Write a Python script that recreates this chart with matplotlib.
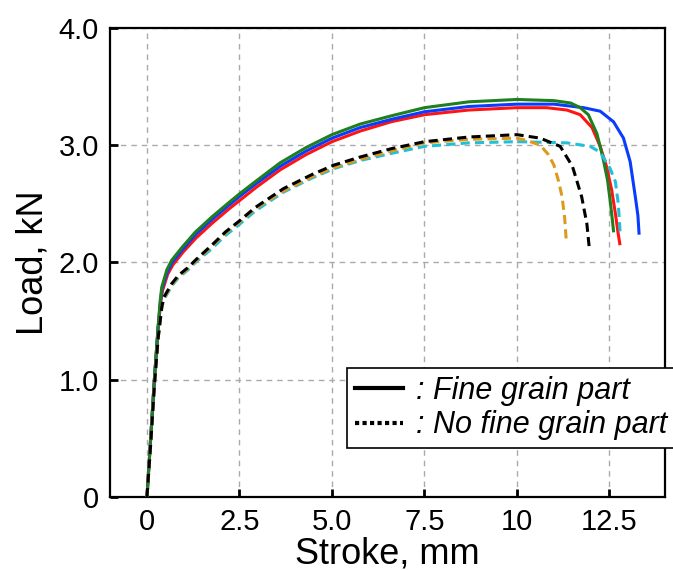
import matplotlib
matplotlib.use("Agg")
import matplotlib.pyplot as plt
from matplotlib.lines import Line2D

plt.rcParams['font.family'] = ['Liberation Sans', 'DejaVu Sans']

# Load–stroke curves, specimens with a fine grain part (solid)
blue_x = [0, 0.1, 0.2, 0.3, 0.365, 0.41, 0.55, 0.68, 0.96, 1.32, 1.77, 2.22, 2.53, 2.94, 3.6, 4.3,
          5.0, 5.76, 6.6, 7.5, 8.7, 10.0, 11.0, 11.8, 12.25, 12.61, 12.88, 13.06, 13.2, 13.27, 13.30]
blue_y = [0, 0.5, 1.0, 1.44, 1.67, 1.78, 1.92, 2.00, 2.11, 2.24, 2.37, 2.49, 2.57, 2.67, 2.82, 2.95,
          3.06, 3.15, 3.22, 3.285, 3.33, 3.35, 3.35, 3.32, 3.29, 3.20, 3.06, 2.86, 2.56, 2.40, 2.25]

red_x = [0, 0.1, 0.2, 0.3, 0.37, 0.42, 0.56, 0.7, 0.98, 1.33, 1.78, 2.23, 2.55, 2.95, 3.6, 4.3,
         5.0, 5.76, 6.6, 7.5, 8.7, 10.0, 10.8, 11.35, 11.71, 12.03, 12.25, 12.42, 12.56, 12.66, 12.73, 12.78]
red_y = [0, 0.5, 1.0, 1.43, 1.66, 1.76, 1.90, 1.98, 2.09, 2.21, 2.34, 2.46, 2.54, 2.64, 2.79, 2.92,
         3.03, 3.12, 3.20, 3.26, 3.30, 3.32, 3.32, 3.30, 3.26, 3.15, 2.99, 2.82, 2.62, 2.42, 2.26, 2.16]

green_x = [0, 0.1, 0.2, 0.3, 0.36, 0.40, 0.54, 0.67, 0.95, 1.31, 1.76, 2.21, 2.52, 2.93, 3.6, 4.3,
           5.0, 5.76, 6.6, 7.5, 8.7, 10.0, 11.0, 11.45, 11.71, 11.93, 12.16, 12.32, 12.45, 12.53, 12.58, 12.61]
green_y = [0, 0.5, 1.0, 1.45, 1.68, 1.79, 1.94, 2.02, 2.13, 2.26, 2.39, 2.51, 2.59, 2.69, 2.85, 2.98,
           3.09, 3.18, 3.25, 3.32, 3.37, 3.39, 3.38, 3.36, 3.32, 3.26, 3.10, 2.90, 2.70, 2.50, 2.36, 2.27]

# Specimens without a fine grain part (dashed)
black_x = [0, 0.1, 0.2, 0.3, 0.4, 0.45, 0.67, 0.85, 1.12, 1.31, 1.76, 2.12, 2.48, 2.93, 3.69, 4.46,
           5.05, 5.77, 6.6, 7.5, 8.7, 10.0, 10.63, 11.17, 11.5, 11.75, 11.89, 11.95]
black_y = [0, 0.45, 0.95, 1.35, 1.62, 1.70, 1.82, 1.89, 1.96, 2.02, 2.15, 2.26, 2.35, 2.47, 2.63, 2.75,
           2.83, 2.90, 2.97, 3.03, 3.07, 3.09, 3.06, 2.99, 2.82, 2.56, 2.33, 2.14]

orange_x = [0, 0.1, 0.2, 0.3, 0.4, 0.45, 0.67, 0.85, 1.12, 1.31, 1.76, 2.12, 2.48, 2.93, 3.69, 4.46,
            5.05, 5.77, 6.6, 7.5, 8.7, 10.0, 10.27, 10.63, 10.85, 11.0, 11.12, 11.22, 11.29, 11.33]
orange_y = [0, 0.45, 0.95, 1.35, 1.62, 1.69, 1.81, 1.88, 1.95, 2.01, 2.14, 2.25, 2.34, 2.46, 2.61, 2.73,
            2.81, 2.88, 2.95, 3.02, 3.05, 3.06, 3.04, 3.00, 2.92, 2.83, 2.70, 2.56, 2.38, 2.20]

cyan_x = [0, 0.1, 0.2, 0.3, 0.4, 0.45, 0.67, 0.85, 1.12, 1.31, 1.76, 2.12, 2.48, 2.93, 3.69, 4.46,
          5.05, 5.77, 6.6, 7.5, 8.7, 10.0, 11.35, 11.98, 12.25, 12.52, 12.66, 12.74, 12.79]
cyan_y = [0, 0.45, 0.95, 1.35, 1.61, 1.68, 1.80, 1.87, 1.94, 2.00, 2.12, 2.23, 2.32, 2.44, 2.60, 2.72,
          2.80, 2.87, 2.93, 2.99, 3.02, 3.03, 3.02, 2.99, 2.94, 2.80, 2.69, 2.50, 2.25]

x_ticks = [0, 2.5, 5.0, 7.5, 10, 12.5]
x_tick_labels = ['0', '2.5', '5.0', '7.5', '10', '12.5']
y_ticks = [0, 1, 2, 3, 4]
y_tick_labels = ['0', '1.0', '2.0', '3.0', '4.0']
legend_labels = [': Fine grain part', ': No fine grain part']

fig = plt.figure(figsize=(6.73, 5.70), dpi=100)
ax = fig.add_axes([0.1634, 0.128, 0.8246, 0.823])

lw = 2.2
ax.plot(red_x, red_y, color='#ff1414', lw=lw, zorder=3)
ax.plot(blue_x, blue_y, color='#0a3cff', lw=lw, zorder=3)
ax.plot(green_x, green_y, color='#1f7f1f', lw=lw, zorder=3)

dash = (3.0, 1.7)
ax.plot(cyan_x, cyan_y, color='#22bfd9', lw=lw, dashes=dash, zorder=4)
ax.plot(orange_x, orange_y, color='#dc9a1e', lw=lw, dashes=dash, zorder=4)
ax.plot(black_x, black_y, color='black', lw=lw, dashes=dash, zorder=4)

ax.set_xlim(-1, 14)
ax.set_ylim(0, 4)
ax.set_xticks(x_ticks)
ax.set_xticklabels(x_tick_labels)
ax.set_yticks(y_ticks)
ax.set_yticklabels(y_tick_labels)

ax.grid(True, color='#aaaaaa', linestyle=(0, (4, 3.5)), lw=1.0, zorder=0)
ax.tick_params(direction='in', length=6, width=2, labelsize=21, pad=8)
for s in ax.spines.values():
    s.set_linewidth(1.6)

ax.set_xlabel('Stroke, mm', fontsize=26, labelpad=0)
ax.set_ylabel('Load, kN', fontsize=26, labelpad=6)

handles = [Line2D([], [], color='black', lw=3),
           Line2D([], [], color='black', lw=3, linestyle=(0, (1, 0.8)))]
leg = ax.legend(handles, legend_labels, loc='upper left', bbox_to_anchor=(0.427, 0.275),
                frameon=True, fancybox=False, edgecolor='black', framealpha=1,
                prop={'style': 'italic', 'size': 22}, handlelength=1.6, handletextpad=0.4,
                borderpad=0.25, labelspacing=0.15, borderaxespad=0)
leg.get_frame().set_linewidth(1.2)

fig.savefig('out.png', dpi=100)
